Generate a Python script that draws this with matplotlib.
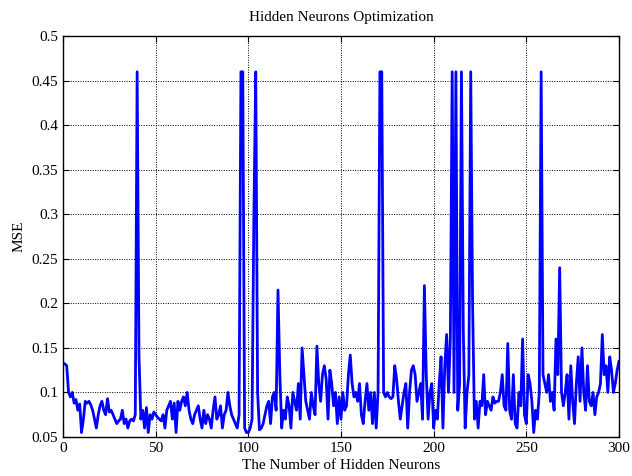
import matplotlib
matplotlib.use("Agg")
import matplotlib.pyplot as plt
import numpy as np

mse = [
 0.133,0.132,0.13,0.10,0.095,0.1,0.088,0.092,0.08,0.087,
 0.055,0.07,0.09,0.088,0.09,0.086,0.08,0.07,0.06,0.075,
 0.085,0.09,0.08,0.075,0.093,0.078,0.08,0.075,0.07,0.065,
 0.068,0.07,0.08,0.065,0.07,0.06,0.068,0.07,0.068,0.075,
 0.46,0.14,0.07,0.08,0.06,0.083,0.055,0.075,0.07,0.078,
 0.075,0.072,0.07,0.068,0.075,0.06,0.08,0.085,0.09,0.07,
 0.088,0.055,0.09,0.08,0.09,0.095,0.085,0.1,0.08,0.07,
 0.065,0.075,0.08,0.085,0.07,0.06,0.08,0.065,0.075,0.07,
 0.06,0.08,0.095,0.07,0.075,0.085,0.06,0.075,0.08,0.1,
 0.085,0.075,0.07,0.065,0.06,0.075,0.46,0.46,0.06,0.055,
 0.055,0.06,0.07,0.3,0.46,0.1,0.058,0.06,0.065,0.075,
 0.085,0.09,0.065,0.095,0.1,0.08,0.215,0.12,0.06,0.08,
 0.07,0.095,0.085,0.06,0.1,0.09,0.08,0.11,0.07,0.15,
 0.12,0.09,0.08,0.07,0.1,0.085,0.075,0.152,0.11,0.09,
 0.12,0.13,0.115,0.07,0.125,0.11,0.085,0.1,0.065,0.095,
 0.07,0.1,0.08,0.085,0.12,0.142,0.11,0.095,0.1,0.09,
 0.11,0.075,0.065,0.09,0.11,0.08,0.1,0.065,0.1,0.06,
 0.1,0.46,0.46,0.1,0.095,0.1,0.095,0.093,0.095,0.13,
 0.115,0.09,0.07,0.085,0.1,0.11,0.06,0.1,0.125,0.13,
 0.12,0.09,0.1,0.11,0.07,0.22,0.12,0.07,0.1,0.11,
 0.06,0.08,0.07,0.11,0.14,0.06,0.13,0.165,0.1,0.16,
 0.46,0.1,0.46,0.08,0.11,0.46,0.17,0.06,0.1,0.12,
 0.46,0.2,0.07,0.09,0.06,0.09,0.085,0.12,0.075,0.09,
 0.085,0.08,0.095,0.088,0.09,0.09,0.1,0.12,0.085,0.08,
 0.155,0.08,0.07,0.12,0.065,0.06,0.1,0.085,0.16,0.075,
 0.065,0.12,0.11,0.09,0.055,0.08,0.07,0.1,0.46,0.12,
 0.11,0.1,0.12,0.09,0.1,0.08,0.16,0.12,0.24,0.1,
 0.085,0.1,0.12,0.07,0.13,0.09,0.065,0.11,0.14,0.09,
 0.15,0.1,0.08,0.13,0.09,0.085,0.1,0.075,0.095,0.1,
 0.11,0.165,0.12,0.13,0.1,0.14,0.125,0.1,0.11,0.125,
 0.135,
]
neurons = np.arange(len(mse))

plt.rcParams['font.family'] = ['Liberation Serif', 'DejaVu Serif']
fig = plt.figure(figsize=(6.32, 4.76), dpi=100)
ax = fig.add_axes([0.0997, 0.082, 0.8797, 0.842])
ax.plot(neurons, mse, color='#0000ff', lw=2.0)
ax.set_xlim(0, 300)
ax.set_ylim(0.05, 0.5)
ax.set_xticks(np.arange(0, 301, 50))
ax.set_yticks([0.05,0.1,0.15,0.2,0.25,0.3,0.35,0.4,0.45,0.5])
ax.set_yticklabels(['0.05','0.1','0.15','0.2','0.25','0.3','0.35','0.4','0.45','0.5'])
ax.grid(True, color='black', linestyle=(0, (1, 1.5)), linewidth=0.7)
ax.tick_params(direction='in', labelsize=11, length=4, top=True, right=True)
for s in ax.spines.values():
    s.set_linewidth(1.0)
ax.set_title('Hidden Neurons Optimization', fontsize=11, pad=11)
ax.set_xlabel('The Number of Hidden Neurons', fontsize=11, labelpad=3)
ax.set_ylabel('MSE', fontsize=11, labelpad=4)
fig.savefig('out.png', dpi=100)
